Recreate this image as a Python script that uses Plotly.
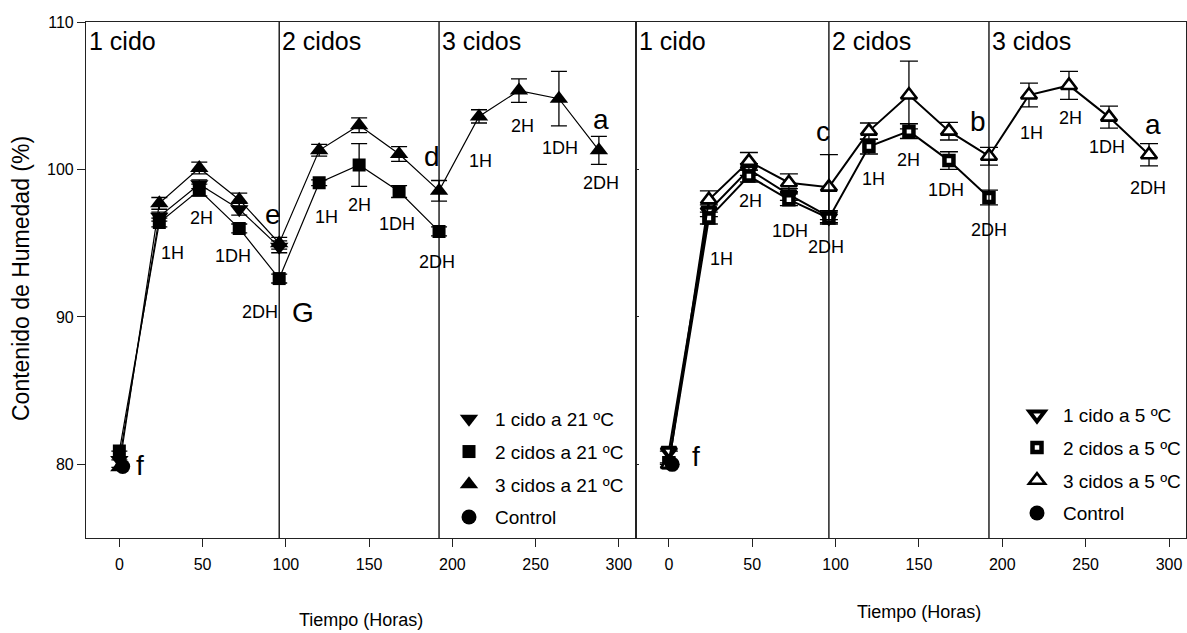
import plotly.graph_objects as go

# ---------------- data ----------------
hours = [0, 24, 48, 72, 96, 120, 144, 168, 192, 216, 240, 264, 288]
control_hours = [2]

# Ciclos a 21 ºC
c1_21 = [80.3, 96.8, 99.0, 97.3, 94.75]
c1_21_err = [0.0, 0.3, 0.3, 0.4, 0.4]
c2_21 = [80.9, 96.4, 98.6, 96.0, 92.6, 99.1, 100.3, 98.5, 95.8]
c2_21_err = [0.0, 0.3, 0.4, 0.3, 0.3, 0.2, 1.45, 0.4, 0.3]
c3_21 = [79.8, 97.7, 100.1, 97.95, 95.0, 101.3, 103.0, 101.05, 98.55, 103.6, 105.35, 104.8, 101.3]
c3_21_err = [0.0, 0.4, 0.4, 0.45, 0.4, 0.4, 0.5, 0.5, 0.7, 0.45, 0.8, 1.85, 0.95]
control_21 = [79.85]

# Ciclos a 5 ºC
c1_5 = [80.9, 97.2, 100.0, 98.3, 96.8]
c1_5_err = [0.0, 0.4, 0.4, 0.4, 0.4]
c2_5 = [80.1, 96.7, 99.55, 97.95, 96.7, 101.55, 102.6, 100.6, 98.1]
c2_5_err = [0.0, 0.4, 0.4, 0.4, 0.4, 0.5, 0.5, 0.6, 0.5]
c3_5 = [80.0, 97.95, 100.55, 99.1, 98.8, 102.6, 105.05, 102.6, 100.9, 105.05, 105.7, 103.55, 101.0]
c3_5_err = [0.0, 0.6, 0.6, 0.6, 2.2, 0.55, 2.3, 0.6, 0.6, 0.8, 0.95, 0.75, 0.75]
control_5 = [80.0]

names_21 = ["1 cido a 21 ºC", "2 cidos a 21 ºC", "3 cidos a 21 ºC", "Control"]
names_5 = ["1 cido a 5 ºC", "2 cidos a 5 ºC", "3 cidos a 5 ºC", "Control"]

cycle_bounds = [96, 192]
cycle_titles = ["1 cido", "2 cidos", "3 cidos"]
x_ticks = [0, 50, 100, 150, 200, 250, 300]
y_ticks = [80, 90, 100, 110]

# stage labels (text, x, y) for each panel
stage_21 = [("1H", 32, 94.35), ("2H", 49.5, 96.7), ("1DH", 68, 94.1), ("2DH", 84.5, 90.35),
            ("1H", 124.5, 96.8), ("2H", 144.5, 97.6), ("1DH", 167, 96.3), ("2DH", 191, 93.75),
            ("1H", 217, 100.6), ("2H", 242, 102.95), ("1DH", 264.5, 101.45), ("2DH", 289.5, 99.1)]
letters_21 = [("e", 92, 96.95), ("G", 110, 90.3), ("d", 188, 100.9), ("a", 289.5, 103.4), ("f", 12.5, 79.9)]

stage_5 = [("1H", 31.5, 93.95), ("2H", 49, 97.85), ("1DH", 72.5, 95.85), ("2DH", 94.5, 94.75),
           ("1H", 123, 99.35), ("2H", 144, 100.65), ("1DH", 166, 98.6), ("2DH", 192, 95.9),
           ("1H", 217.5, 102.45), ("2H", 241, 103.5), ("1DH", 263, 101.55), ("2DH", 287.5, 98.75)]
letters_5 = [("c", 92.5, 102.6), ("b", 185.5, 103.25), ("a", 290.5, 103.05), ("f", 16, 80.55)]

FONT = "Liberation Sans, Arial, sans-serif"
INK = "#000000"

fig = go.Figure()


def add_series(x, y, err, name, marker, xa, ya, legend, lw, cap):
    # connecting line (kept out of the legend so only the symbol is listed)
    fig.add_trace(go.Scatter(x=x, y=y, mode="lines", xaxis=xa, yaxis=ya,
                             line=dict(color=INK, width=lw), showlegend=False,
                             hoverinfo="skip"))
    fig.add_trace(go.Scatter(
        x=x, y=y, name=name, mode="markers", xaxis=xa, yaxis=ya,
        legend=legend, legendgroup=f"{legend}-{name}",
        marker=marker,
        error_y=dict(type="data", array=err, visible=True,
                     color=INK, thickness=1.3, width=cap),
    ))


def solid(symbol, size):
    return dict(symbol=symbol, size=size, color=INK, line=dict(width=0))


def hollow(symbol, size, width):
    return dict(symbol=symbol, size=size, color="white", line=dict(color=INK, width=width))


# panel 1: 21 ºC (filled symbols)
add_series(hours[:5], c1_21, c1_21_err, names_21[0], solid("triangle-down", 16), "x", "y", "legend", 1.2, 8)
add_series(hours[:9], c2_21, c2_21_err, names_21[1], solid("square", 13), "x", "y", "legend", 1.2, 8)
add_series(hours, c3_21, c3_21_err, names_21[2], solid("triangle-up", 16), "x", "y", "legend", 1.2, 8)
fig.add_trace(go.Scatter(x=control_hours, y=control_21, name=names_21[3], mode="markers",
                         xaxis="x", yaxis="y", legend="legend", legendgroup="legend-ctl",
                         marker=solid("circle", 15)))

# panel 2: 5 ºC (thick-outlined symbols)
add_series(hours[:5], c1_5, c1_5_err, names_5[0], hollow("triangle-down", 13, 4), "x2", "y2", "legend2", 2.0, 9)
add_series(hours[:9], c2_5, c2_5_err, names_5[1], hollow("square", 9, 4.5), "x2", "y2", "legend2", 2.0, 9)
add_series(hours, c3_5, c3_5_err, names_5[2], hollow("triangle-up", 14, 2.6), "x2", "y2", "legend2", 2.0, 9)
fig.add_trace(go.Scatter(x=control_hours, y=control_5, name=names_5[3], mode="markers",
                         xaxis="x2", yaxis="y2", legend="legend2", legendgroup="legend2-ctl",
                         marker=solid("circle", 15)))

annotations = []
shapes = []
for xa, ya, stages, letters in [("x", "y", stage_21, letters_21), ("x2", "y2", stage_5, letters_5)]:
    for b in cycle_bounds:
        shapes.append(dict(type="line", xref=xa, yref=f"{ya} domain", x0=b, x1=b, y0=0, y1=1,
                           line=dict(color=INK, width=1.3)))
    for start, title in zip([-20] + cycle_bounds, cycle_titles):
        annotations.append(dict(x=start, y=108.7, xref=xa, yref=ya, text=title, showarrow=False,
                                xanchor="left", yanchor="middle", xshift=1,
                                font=dict(family=FONT, size=25, color=INK)))
    for t, lx, ly in stages:
        annotations.append(dict(x=lx, y=ly, xref=xa, yref=ya, text=t, showarrow=False,
                                xanchor="center", yanchor="middle",
                                font=dict(family=FONT, size=18, color=INK)))
    for t, lx, ly in letters:
        annotations.append(dict(x=lx, y=ly, xref=xa, yref=ya, text=t, showarrow=False,
                                xanchor="center", yanchor="middle",
                                font=dict(family=FONT, size=28, color=INK)))

# axis titles
annotations.append(dict(x=361 / 1187, y=1 - 620 / 633, xref="paper", yref="paper",
                        text="Tiempo (Horas)", showarrow=False, xanchor="center", yanchor="middle",
                        font=dict(family=FONT, size=18, color=INK)))
annotations.append(dict(x=919 / 1187, y=1 - 612 / 633, xref="paper", yref="paper",
                        text="Tiempo (Horas)", showarrow=False, xanchor="center", yanchor="middle",
                        font=dict(family=FONT, size=18, color=INK)))
annotations.append(dict(x=21 / 1187, y=1 - 279 / 633, xref="paper", yref="paper",
                        text="Contenido de Humedad (%)", showarrow=False, textangle=-90,
                        xanchor="center", yanchor="middle",
                        font=dict(family=FONT, size=23, color=INK)))

axis_common = dict(range=[-20, 310], tickvals=x_ticks, ticks="outside", ticklen=8,
                   tickwidth=1.2, tickcolor="#222", showline=True, linecolor="#222",
                   linewidth=1.3, mirror=True, showgrid=False, zeroline=False,
                   ticklabelstandoff=4, automargin=False,
                   tickfont=dict(family=FONT, size=16, color=INK))
y_common = dict(range=[75, 110], tickvals=y_ticks, showline=True, linecolor="#222",
                linewidth=1.3, mirror=True, showgrid=False, zeroline=False,
                tickwidth=1.2, tickcolor="#222", automargin=False,
                tickfont=dict(family=FONT, size=16, color=INK))

legend_common = dict(xanchor="left", yanchor="top", bgcolor="rgba(0,0,0,0)",
                     tracegroupgap=5, itemwidth=42,
                     font=dict(family=FONT, size=19, color=INK))

fig.update_layout(
    width=1187, height=633,
    margin=dict(l=0, r=0, t=0, b=0, pad=0, autoexpand=False),
    paper_bgcolor="white", plot_bgcolor="white",
    xaxis=dict(domain=[0.0725, 0.5354], anchor="y", **axis_common),
    yaxis=dict(domain=[0.15, 0.9652], anchor="x", ticks="outside", ticklen=8, **y_common),
    xaxis2=dict(domain=[0.5354, 0.9989], anchor="y2", **axis_common),
    yaxis2=dict(domain=[0.15, 0.9652], anchor="x2", ticks="inside", ticklen=3,
                showticklabels=False, **y_common),
    legend=dict(x=443 / 1187, y=1 - 400 / 633, **legend_common),
    legend2=dict(x=1011 / 1187, y=1 - 396 / 633, **legend_common),
    shapes=shapes,
    annotations=annotations,
)

fig.write_html("out.html")
